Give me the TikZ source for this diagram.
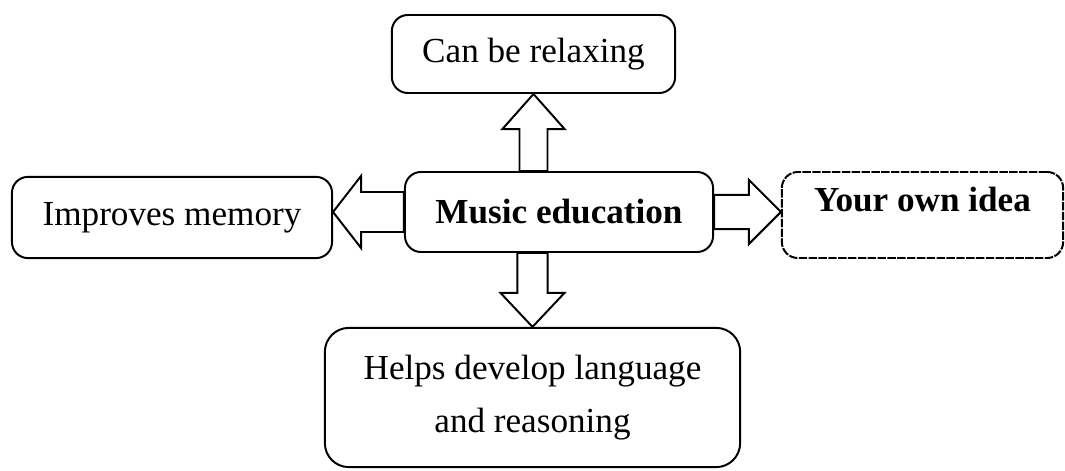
\documentclass[tikz,border=0pt]{standalone}
\usepackage{fontspec}
\setmainfont{Liberation Serif}
\usetikzlibrary{calc}

\begin{document}
\begin{tikzpicture}[x=0.025cm,y=-0.025cm,line width=1.4pt,
  box/.style={draw,rounded corners=0.4cm,align=center,inner sep=0pt,
    font=\fontsize{25}{37.6}\selectfont},
  fat/.style n args={3}{to path={
    ($(\tikztotarget)!#3!(\tikztostart)$) coordinate (fh)
    ($(\tikztostart)!#1!90:(\tikztotarget)$) -- ($(fh)!#1!-90:(\tikztostart)$)
    -- ($(fh)!#2!-90:(\tikztostart)$) -- (\tikztotarget)
    -- ($(fh)!#2!90:(\tikztostart)$) -- ($(fh)!#1!90:(\tikztostart)$)
    -- ($(\tikztostart)!#1!-90:(\tikztotarget)$) -- cycle}}]
  \useasboundingbox (0,0) rectangle (1065,471);
  \node[box,minimum width=7.08cm,minimum height=1.95cm] (relax) at (533.5,54) {Can be relaxing};
  \node[box,minimum width=7.7cm,minimum height=2cm,font=\fontsize{25}{30}\selectfont\bfseries] (music) at (559,212) {Music education};
  \node[box,minimum width=8cm,minimum height=2.03cm] (memory) at (172,217.5) {Improves memory};
  \node[box,minimum width=7.03cm,minimum height=2.15cm,text depth=23pt,dash pattern=on 6pt off 1pt,
    font=\fontsize{25}{30}\selectfont\bfseries] (idea) at (922.5,215) {Your own idea};
  \node[box,minimum width=10.38cm,minimum height=3.48cm,rounded corners=0.6cm] (develop) at (532.5,397.5)
    {Helps develop language\\and reasoning};
  % feet and tips of the block arrows
  \coordinate (upfoot) at (relax.south |- music.north);
  \coordinate (downfoot) at (develop.north |- music.south);
  \coordinate (lefttip) at (memory.east |- music.west);
  \coordinate (righttip) at (idea.west |- music.east);
  \draw (upfoot) to[fat={0.35cm}{0.78cm}{0.88cm}] (relax.south);
  \draw (downfoot) to[fat={0.38cm}{0.8cm}{0.85cm}] (develop.north);
  \draw (music.west) to[fat={0.5cm}{0.9cm}{0.7cm}] (lefttip);
  \draw (music.east) to[fat={0.43cm}{0.8cm}{0.8cm}] (righttip);
\end{tikzpicture}
\end{document}
